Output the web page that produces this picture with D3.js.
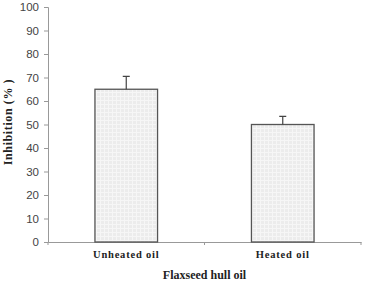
<!DOCTYPE html>
<html>
<head>
<meta charset="utf-8">
<script src="https://cdn.jsdelivr.net/npm/d3@7"></script>
<style>
  body { margin: 0; background: #fff; }
  svg { display: block; }
</style>
</head>
<body>
<div id="viz"></div>
<script>
const categories = ['Unheated oil', 'Heated oil'];
const values = [65, 50];
const errors = [5.5, 3.5];
const yTicks = [0, 10, 20, 30, 40, 50, 60, 70, 80, 90, 100];

const width = 368, height = 284;
const margin = { left: 48, right: 7, top: 7, bottom: 42 };

let svg = d3.select('#viz')
    .append('svg')
    .attr('width', width)
    .attr('height', height);

let defs = svg.append('defs');
let pat = defs.append('pattern')
    .attr('id', 'grid')
    .attr('width', 4)
    .attr('height', 4)
    .attr('patternUnits', 'userSpaceOnUse');
pat.append('rect').attr('width', 4).attr('height', 4).attr('fill', '#ececec');
pat.append('path').attr('d', 'M0,0.5H4M0.5,0V4').attr('stroke', '#f6f6f6').attr('stroke-width', 1);

let yScale = d3.scaleLinear()
    .domain([0, 100])
    .range([height - margin.bottom, margin.top]);

let xScale = d3.scaleBand()
    .domain(categories)
    .range([margin.left, width - margin.right])
    .paddingInner(0)
    .paddingOuter(0);

const barW = xScale.bandwidth() * 0.4;

// y axis
let yAxis = svg.append('g')
    .attr('transform', `translate(${margin.left},0)`)
    .call(d3.axisLeft(yScale).tickValues(yTicks).tickSize(4).tickPadding(5));
yAxis.select('.domain').attr('stroke', '#999');
yAxis.selectAll('.tick line').attr('stroke', '#999');
yAxis.selectAll('.tick text')
    .attr('fill', '#444')
    .style('font-family', 'Liberation Sans, Arial, sans-serif')
    .style('font-size', '11.5px');

// x axis
let xAxis = svg.append('g')
    .attr('transform', `translate(0,${height - margin.bottom})`)
    .call(d3.axisBottom(xScale).tickSize(0).tickFormat(''));
xAxis.select('.domain').attr('stroke', '#999');
let xEdges = [margin.left, xScale(categories[1]), width - margin.right];
xAxis.selectAll('.edge').data(xEdges).enter()
    .append('line')
    .attr('x1', d => d).attr('x2', d => d)
    .attr('y1', 0).attr('y2', 3)
    .attr('stroke', '#999');

// bars
svg.selectAll('.bar').data(values)
    .enter()
    .append('rect')
    .attr('class', 'bar')
    .attr('x', (d, i) => xScale(categories[i]) + (xScale.bandwidth() - barW) / 2)
    .attr('y', d => yScale(d))
    .attr('width', barW)
    .attr('height', d => yScale(0) - yScale(d))
    .attr('fill', 'url(#grid)')
    .attr('stroke', '#555')
    .attr('stroke-width', 1.3);

// error bars
let cx = i => xScale(categories[i]) + xScale.bandwidth() / 2;
svg.selectAll('.err').data(values)
    .enter()
    .append('path')
    .attr('class', 'err')
    .attr('d', (d, i) => {
        let top = yScale(d + errors[i]);
        return `M${cx(i)},${yScale(d)}V${top}M${cx(i) - 3.5},${top}H${cx(i) + 3.5}`;
    })
    .attr('fill', 'none')
    .attr('stroke', '#444')
    .attr('stroke-width', 1.2);

// category labels
svg.selectAll('.cat').data(categories)
    .enter()
    .append('text')
    .attr('class', 'cat')
    .attr('x', (d, i) => cx(i))
    .attr('y', 258)
    .attr('text-anchor', 'middle')
    .style('font-family', 'Liberation Serif, Times New Roman, serif')
    .style('font-weight', 'bold')
    .style('font-size', '10.5px')
    .style('letter-spacing', '0.8px')
    .attr('fill', '#222')
    .text(d => d);

// axis titles
svg.append('text')
    .attr('x', (margin.left + width - margin.right) / 2)
    .attr('y', 279)
    .attr('text-anchor', 'middle')
    .style('font-family', 'Liberation Serif, Times New Roman, serif')
    .style('font-weight', 'bold')
    .style('font-size', '12px')
    .attr('fill', '#222')
    .text('Flaxseed hull oil');

svg.append('text')
    .attr('transform', 'translate(12,122) rotate(-90)')
    .attr('text-anchor', 'middle')
    .style('font-family', 'Liberation Serif, Times New Roman, serif')
    .style('font-weight', 'bold')
    .style('font-size', '12px')
    .style('letter-spacing', '0.6px')
    .attr('fill', '#222')
    .text('Inhibition (% )');
</script>
</body>
</html>
